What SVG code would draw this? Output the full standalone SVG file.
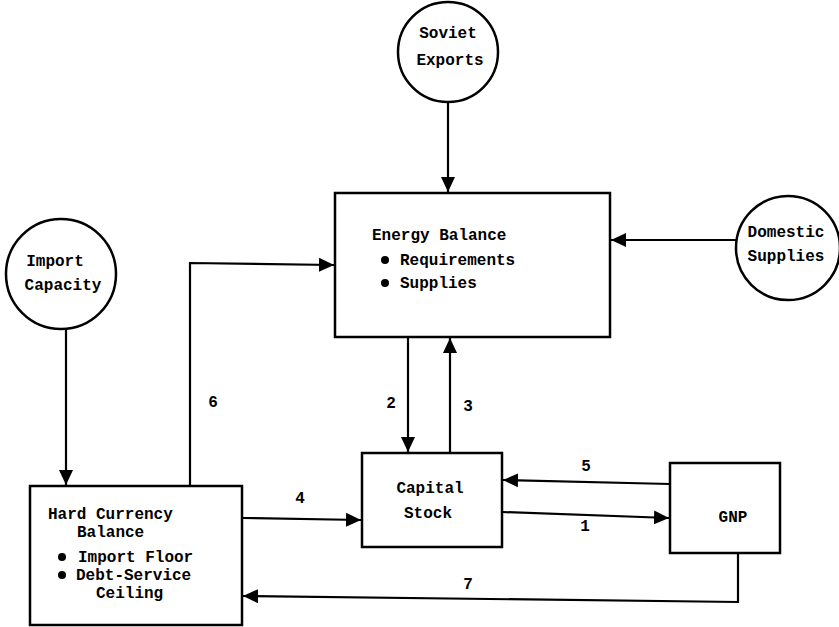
<svg xmlns="http://www.w3.org/2000/svg" width="839" height="627" viewBox="0 0 839 627">
<style>
.shape{fill:#fff;stroke:#000;stroke-width:2.5}
.con{fill:none;stroke:#000;stroke-width:2.2}
text{font-family:"Liberation Mono","DejaVu Sans Mono",monospace;font-size:16px;font-weight:bold;fill:#000}
.c{text-anchor:middle}
</style>
<defs>
<marker id="ah" markerUnits="userSpaceOnUse" markerWidth="16" markerHeight="16" viewBox="0 0 16 16" refX="15" refY="8" orient="auto">
<path d="M0,1 L15,8 L0,15 Z" fill="#000"/>
</marker>
</defs>
<rect width="839" height="627" fill="#fff"/>
<g id="connectors">
<line class="con" x1="448" y1="102" x2="448" y2="192" marker-end="url(#ah)"/>
<line class="con" x1="736" y1="240" x2="611" y2="240" marker-end="url(#ah)"/>
<line class="con" x1="66" y1="329" x2="66" y2="485" marker-end="url(#ah)"/>
<polyline class="con" points="190,486 190,263 334,265" marker-end="url(#ah)"/>
<line class="con" x1="408" y1="338" x2="408" y2="452" marker-end="url(#ah)"/>
<line class="con" x1="450" y1="452" x2="450" y2="338" marker-end="url(#ah)"/>
<line class="con" x1="243" y1="518" x2="361" y2="520" marker-end="url(#ah)"/>
<line class="con" x1="670" y1="484" x2="503" y2="480" marker-end="url(#ah)"/>
<line class="con" x1="502" y1="512" x2="669" y2="518" marker-end="url(#ah)"/>
<polyline class="con" points="738,553 738,602 243,596" marker-end="url(#ah)"/>
<text class="c" x="213" y="407">6</text>
<text class="c" x="391" y="408">2</text>
<text class="c" x="468" y="411">3</text>
<text class="c" x="300" y="503">4</text>
<text class="c" x="586" y="471">5</text>
<text class="c" x="585" y="531">1</text>
<text class="c" x="468" y="589">7</text>
</g>
<g id="soviet-exports">
<circle class="shape" cx="448" cy="52" r="50"/>
<text class="c" x="448" y="38">Soviet</text>
<text class="c" x="450" y="65">Exports</text>
</g>
<g id="domestic-supplies">
<circle class="shape" cx="788" cy="248" r="52"/>
<text class="c" x="786" y="237">Domestic</text>
<text class="c" x="786" y="261">Supplies</text>
</g>
<g id="import-capacity">
<circle class="shape" cx="61" cy="274" r="55"/>
<text class="c" x="55" y="266">Import</text>
<text class="c" x="63" y="290">Capacity</text>
</g>
<g id="energy-balance">
<rect class="shape" x="335" y="193" width="275" height="144"/>
<text x="372" y="240">Energy Balance</text>
<circle cx="385" cy="260" r="4"/>
<text x="400" y="265">Requirements</text>
<circle cx="385" cy="283" r="4"/>
<text x="400" y="288">Supplies</text>
</g>
<g id="capital-stock">
<rect class="shape" x="362" y="453" width="140" height="94"/>
<text class="c" x="430" y="493">Capital</text>
<text class="c" x="428" y="518">Stock</text>
</g>
<g id="gnp">
<rect class="shape" x="670" y="463" width="110" height="90"/>
<text class="c" x="733" y="522">GNP</text>
</g>
<g id="hard-currency-balance">
<rect class="shape" x="30" y="486" width="212" height="139"/>
<text x="48" y="519">Hard Currency</text>
<text x="77" y="537">Balance</text>
<circle cx="62" cy="557" r="4"/>
<text x="78" y="562">Import Floor</text>
<circle cx="62" cy="575" r="4"/>
<text x="76" y="580">Debt-Service</text>
<text x="96" y="598">Ceiling</text>
</g>
</svg>
